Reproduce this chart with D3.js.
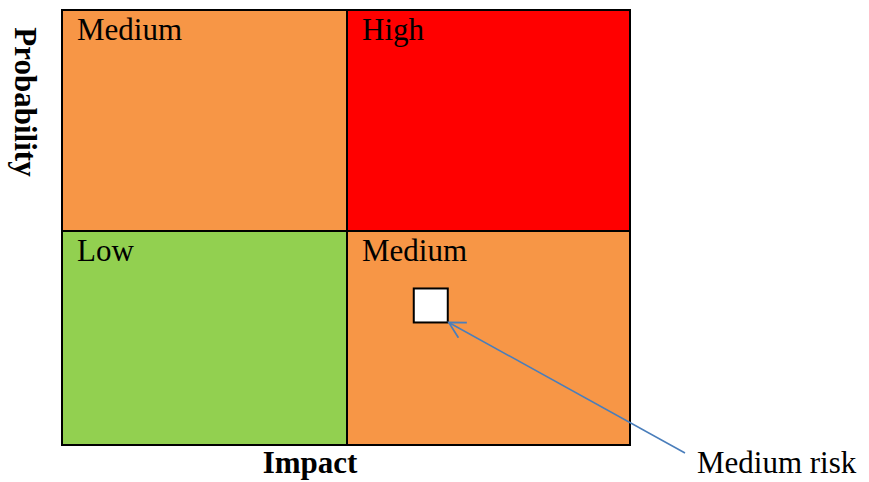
<!DOCTYPE html>
<html>
<head>
<meta charset="utf-8">
<script src="https://cdn.jsdelivr.net/npm/d3@7"></script>
<style>
  body { margin: 0; background: #fff; }
  text { font-family: "Liberation Serif", "Times New Roman", serif; }
</style>
</head>
<body>
<svg id="chart" width="869" height="482"></svg>
<script>
// Niveles de los ejes (indice 0 = bajo, 1 = alto)
const impactLevels = ["Low", "High"];
const probabilityLevels = ["Low", "High"];

// Celdas de la matriz: impacto, probabilidad, nivel de riesgo
const cellImpact = [0, 1, 0, 1];
const cellProbability = [1, 1, 0, 0];
const cellRisk = ["Medium", "High", "Low", "Medium"];

// Riesgo marcado (en unidades de la matriz, 0..2)
const riskNames = ["Medium risk"];
const riskImpact = [1.296];
const riskProbability = [0.652];

const colors = { Low: "#92D050", Medium: "#F79646", High: "#FF0000" };

const margin = { top: 10, right: 239, bottom: 37, left: 62 };
const width = 869 - margin.left - margin.right;
const height = 482 - margin.top - margin.bottom;
const fontSize = "31px";

const svg = d3.select("#chart");
const g = svg.append("g").attr("transform", `translate(${margin.left}, ${margin.top})`);

// La fila superior es un poco mas alta que la inferior
const xLin = d3.scaleLinear().domain([0, 1, 2]).range([0, 285, width]);
const yLin = d3.scaleLinear().domain([0, 1, 2]).range([height, 221, 0]);

const cells = cellRisk.map((r, i) => ({ risk: r, impact: cellImpact[i], prob: cellProbability[i] }));

// Celdas
g.selectAll(".cell").data(cells).join("rect")
  .attr("class", "cell")
  .attr("x", d => xLin(d.impact))
  .attr("y", d => yLin(d.prob + 1))
  .attr("width", d => xLin(d.impact + 1) - xLin(d.impact))
  .attr("height", d => yLin(d.prob) - yLin(d.prob + 1))
  .attr("fill", d => colors[d.risk])
  .attr("stroke", "#000")
  .attr("stroke-width", 2);

g.selectAll(".cell-label").data(cells).join("text")
  .attr("class", "cell-label")
  .attr("x", d => xLin(d.impact) + 15)
  .attr("y", d => yLin(d.prob + 1) + 30)
  .style("font-size", fontSize)
  .attr("fill", "#000")
  .text(d => d.risk);

// Titulos de los ejes
g.append("text")
  .attr("x", width / 2 - 36).attr("y", height + 28)
  .attr("text-anchor", "middle")
  .style("font-size", fontSize).style("font-weight", "bold")
  .text("Impact");

g.append("text")
  .attr("transform", `translate(${-47}, ${92}) rotate(90)`)
  .attr("text-anchor", "middle")
  .style("font-size", fontSize).style("font-weight", "bold")
  .text("Probability");

// Marcador del riesgo
const risks = riskNames.map((n, i) => ({ name: n, impact: riskImpact[i], prob: riskProbability[i] }));
const box = 34;

svg.append("defs").append("marker")
  .attr("id", "arrow")
  .attr("viewBox", "0 0 12 12")
  .attr("refX", 11).attr("refY", 6)
  .attr("markerWidth", 19).attr("markerHeight", 19)
  .attr("markerUnits", "userSpaceOnUse")
  .attr("orient", "auto")
  .append("path")
  .attr("d", "M1,0.5 L11,6 L1,11.5")
  .attr("fill", "none")
  .attr("stroke", "#4A7EBB")
  .attr("stroke-width", 1.1);

risks.forEach(d => {
  const cx = xLin(d.impact), cy = yLin(d.prob);
  g.append("rect")
    .attr("x", cx - box / 2).attr("y", cy - box / 2)
    .attr("width", box).attr("height", box)
    .attr("fill", "#fff").attr("stroke", "#000").attr("stroke-width", 2);

  const lx = width + 55, ly = height + 8;
  g.append("line")
    .attr("x1", lx).attr("y1", ly)
    .attr("x2", cx + box / 2 + 1).attr("y2", cy + box / 2)
    .attr("stroke", "#4A7EBB").attr("stroke-width", 1.5)
    .attr("marker-end", "url(#arrow)");

  g.append("text")
    .attr("x", width + 67).attr("y", height + 28)
    .style("font-size", fontSize)
    .text(d.name);
});
</script>
</body>
</html>
